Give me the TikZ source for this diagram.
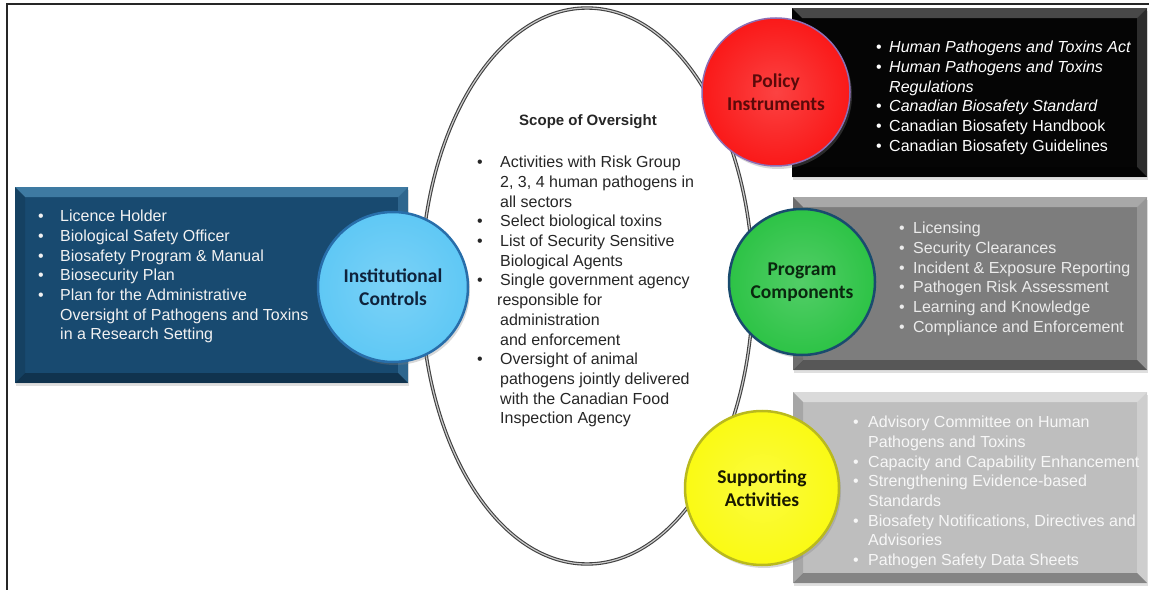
\documentclass[tikz,border=0pt]{standalone}
\usepackage{fontspec}
\setmainfont{Liberation Sans}
\newfontfamily\discfont{Carlito}
\usetikzlibrary{shapes.geometric,shadows}
\definecolor{ctrlmain}{RGB}{24,74,112}
\definecolor{ctrllight}{RGB}{62,122,162}
\definecolor{policymain}{RGB}{5,5,5}
\definecolor{policylight}{RGB}{72,72,72}
\definecolor{progmain}{RGB}{125,125,125}
\definecolor{proglight}{RGB}{168,168,168}
\definecolor{suppmain}{RGB}{190,190,190}
\definecolor{supplight}{RGB}{218,218,218}
\definecolor{discblue}{RGB}{95,200,245}
\definecolor{discblueedge}{RGB}{40,110,170}
\definecolor{discred}{RGB}{250,25,25}
\definecolor{discrededge}{RGB}{140,110,180}
\definecolor{discgreen}{RGB}{45,195,70}
\definecolor{discgreenedge}{RGB}{25,75,110}
\definecolor{discyellow}{RGB}{250,250,20}
\definecolor{discyellowedge}{RGB}{185,185,30}
\newcommand{\bul}[1]{\makebox[#1][l]{\textbullet}}
\tikzset{
  bevel box/.style 2 args={
    fill=#1, draw=none, inner sep=0, anchor=north west,
    drop shadow={opacity=.25, shadow xshift=1bp, shadow yshift=-3bp},
    path picture={
      \coordinate (bb-nw) at (path picture bounding box.north west);
      \coordinate (bb-ne) at (path picture bounding box.north east);
      \coordinate (bb-sw) at (path picture bounding box.south west);
      \coordinate (bb-se) at (path picture bounding box.south east);
      \fill[#2] (bb-nw) -- (bb-ne) -- ([shift={(-10bp,-10bp)}]bb-ne) -- ([shift={(10bp,-10bp)}]bb-nw) -- cycle;
      \fill[#2, opacity=.6] (bb-ne) -- (bb-se) -- ([shift={(-10bp,10bp)}]bb-se) -- ([shift={(-10bp,-10bp)}]bb-ne) -- cycle;
      \fill[black, opacity=.3] (bb-sw) -- (bb-se) -- ([shift={(-10bp,10bp)}]bb-se) -- ([shift={(10bp,10bp)}]bb-sw) -- cycle;
      \fill[black, opacity=.12] (bb-nw) -- (bb-sw) -- ([shift={(10bp,10bp)}]bb-sw) -- ([shift={(10bp,-10bp)}]bb-nw) -- cycle;
    }},
  disc/.style 2 args={
    circle, inner sep=0, shading=radial, inner color=#1!82!white, outer color=#1,
    draw=#2, line width=2.5bp, align=center,
    drop shadow={opacity=.3, shadow xshift=2bp, shadow yshift=-3bp},
    font=\discfont\bfseries\fontsize{19.5bp}{23bp}\selectfont},
  item list/.style={anchor=north west, inner sep=0, align=left,
    font=\fontsize{16bp}{19.7bp}\selectfont},
}
\begin{document}
\begin{tikzpicture}[x=1bp,y=-1bp]
\useasboundingbox (0,0) rectangle (1149,590);
\fill[white] (0,0) rectangle (1149,590);
\draw[line width=1.5bp, black!85] (7,590) -- (7,4) -- (1149,4);

\node[ellipse, minimum width=332bp, minimum height=556bp, draw=black!75,
  double=gray!40, double distance=1.2bp, line width=1.1bp] (scope) at (587,286) {};
\node[font=\bfseries\fontsize{15bp}{18bp}\selectfont, text=black!85] (scopetitle) at (588,122) {Scope of Oversight};
\node[item list, text=black!85] (scopelist) at (477,156) {%
  \bul{23bp}Activities with Risk Group\\
  \hspace*{23bp}2, 3, 4 human pathogens in\\
  \hspace*{23bp}all sectors\\
  \bul{23bp}Select biological toxins\\
  \bul{23bp}List of Security Sensitive\\
  \hspace*{23bp}Biological Agents\\
  \bul{23bp}Single government agency\\
  \hspace*{20bp}responsible for\\
  \hspace*{23bp}administration\\
  \hspace*{23bp}and enforcement\\
  \bul{23bp}Oversight of animal\\
  \hspace*{23bp}pathogens jointly delivered\\
  \hspace*{23bp}with the Canadian Food\\
  \hspace*{23bp}Inspection Agency};

\node[bevel box={ctrlmain}{ctrllight}, minimum width=393bp, minimum height=196bp] (ctrlbox) at (15,187) {};
\node[item list, text=white!95!black] (ctrllist) at (38,210) {%
  \bul{22bp}Licence Holder\\
  \bul{22bp}Biological Safety Officer\\
  \bul{22bp}Biosafety Program \& Manual\\
  \bul{22bp}Biosecurity Plan\\
  \bul{22bp}Plan for the Administrative\\
  \hspace*{22bp}Oversight of Pathogens and Toxins\\
  \hspace*{22bp}in a Research Setting};

\node[bevel box={policymain}{policylight}, minimum width=355bp, minimum height=169bp] (policybox) at (792,8) {};
\node[item list, text=white] (policylist) at (876,41) {%
  \bul{13bp}\textit{Human Pathogens and Toxins Act}\\
  \bul{13bp}\textit{Human Pathogens and Toxins}\\
  \hspace*{13bp}\textit{Regulations}\\
  \bul{13bp}\textit{Canadian Biosafety Standard}\\
  \bul{13bp}Canadian Biosafety Handbook\\
  \bul{13bp}Canadian Biosafety Guidelines};

\node[bevel box={progmain}{proglight}, minimum width=354bp, minimum height=173bp] (progbox) at (793,197) {};
\node[item list, text=white!92!black] (proglist) at (899,222) {%
  \bul{14bp}Licensing\\
  \bul{14bp}Security Clearances\\
  \bul{14bp}Incident \& Exposure Reporting\\
  \bul{14bp}Pathogen Risk Assessment\\
  \bul{14bp}Learning and Knowledge\\
  \bul{14bp}Compliance and Enforcement};

\node[bevel box={suppmain}{supplight}, minimum width=354bp, minimum height=191bp] (suppbox) at (793,392) {};
\node[item list, text=white!97!black] (supplist) at (853,416) {%
  \bul{15bp}Advisory Committee on Human\\
  \hspace*{15bp}Pathogens and Toxins\\
  \bul{15bp}Capacity and Capability Enhancement\\
  \bul{15bp}Strengthening Evidence-based\\
  \hspace*{15bp}Standards\\
  \bul{15bp}Biosafety Notifications, Directives and\\
  \hspace*{15bp}Advisories\\
  \bul{15bp}Pathogen Safety Data Sheets};

\node[disc={discblue}{discblueedge}, minimum size=150bp, text={rgb,255:red,15;green,35;blue,60}] (ctrl) at (393,287) {Institutional\\Controls};
\node[disc={discred}{discrededge}, minimum size=148bp, line width=1.5bp, text={rgb,255:red,90;green,10;blue,10}] (policy) at (776,92) {Policy\\Instruments};
\node[disc={discgreen}{discgreenedge}, minimum size=146bp, text={rgb,255:red,10;green,40;blue,15}] (prog) at (802,282) {Program\\Components};
\node[disc={discyellow}{discyellowedge}, minimum size=154bp, text={rgb,255:red,25;green,25;blue,0}] (supp) at (762,488) {Supporting\\Activities};
\end{tikzpicture}
\end{document}
